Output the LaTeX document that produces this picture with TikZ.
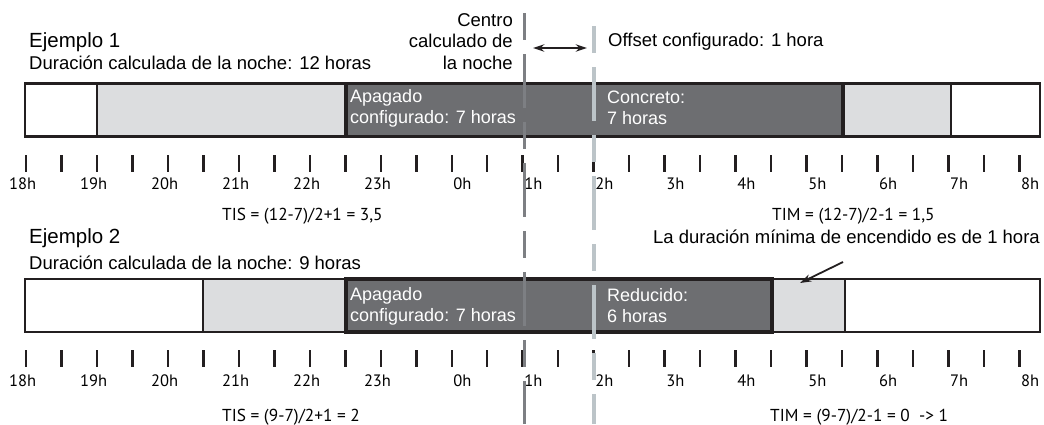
\documentclass[tikz,border=0pt]{standalone}
\usepackage{fontspec}
\setmainfont{Liberation Sans}
\newfontfamily\tickfont{PT Sans}
\usepackage{tikz}
\usetikzlibrary{positioning,arrows.meta,calc}
\definecolor{offc}{RGB}{109,110,113}
\definecolor{dimc}{RGB}{220,221,223}
\definecolor{edgec}{RGB}{35,31,32}
\definecolor{centc}{RGB}{125,127,131}
\definecolor{offsc}{RGB}{188,196,200}
\tikzset{
  title/.style    = {font=\fontsize{20.5}{24}\selectfont, inner sep=0pt, anchor=west},
  lbl/.style      = {font=\fontsize{18.5}{21.5}\selectfont, inner sep=0pt},
  intext/.style   = {font=\fontsize{18}{21}\selectfont, text=white, inner sep=0pt,
                     align=left, anchor=west},
  hour/.style     = {font=\tickfont\fontsize{16.5}{18}\selectfont, inner sep=0pt, anchor=west},
  formula/.style  = {font=\tickfont\fontsize{17.3}{19}\selectfont, inner sep=0pt, anchor=west},
  hrtick/.style   = {draw=edgec, line width=2.5pt},
  offbox/.style   = {fill=offc, draw=edgec, line width=3.5pt},
  dimbox/.style   = {fill=dimc, draw=edgec, line width=2.5pt},
  onbox/.style    = {fill=white, draw=edgec, line width=2.5pt},
  centline/.style = {draw=centc, line width=3pt, dash pattern=on 27pt off 14pt on 54pt off 14pt},
  offsline/.style = {draw=offsc, line width=4pt, dash pattern=on 27pt off 14pt on 54pt off 14pt},
  flow/.style     = {-{Stealth[length=4mm,width=2.6mm]}, line width=1.8pt, draw=edgec},
  gap/.style      = {{Stealth[length=4mm,width=2.6mm]}-{Stealth[length=4mm,width=2.6mm]},
                     line width=1.5pt, draw=edgec},
}

\begin{document}
\begin{tikzpicture}[x=1pt,y=-1pt]
\useasboundingbox (0,0) rectangle (1044,424);

% headings
\node[title] (ej1) at (29,42) {Ejemplo 1};
\node[lbl, anchor=west] (dur1) at (29,63) {Duración calculada de la noche: 12 horas};
\node[title] (ej2) at (29,238) {Ejemplo 2};
\node[lbl, anchor=west] (dur2) at (29,263) {Duración calculada de la noche: 9 horas};

% example 1 bar
\draw[onbox]  (25,83.5)  rectangle (97,136.5);
\draw[dimbox] (97,83.5)  rectangle (346,136.5);
\draw[dimbox] (843,83.5) rectangle (951,136.5);
\draw[onbox]  (951,83.5) rectangle (1040,136.5);
\draw[offbox] (346,83.5) rectangle (843,136.5);
\node[intext] (apa1) at (350,108) {Apagado\\configurado: 7 horas};
\node[intext] (con1) at (607,108) {Concreto:\\7 horas};

% example 2 bar
\draw[onbox]  (25,279)  rectangle (203,332);
\draw[dimbox] (203,279) rectangle (346,332);
\draw[dimbox] (772,279) rectangle (845,332);
\draw[onbox]  (845,279) rectangle (1040,332);
\draw[offbox] (346,279) rectangle (772,332);
\node[intext] (apa2) at (350,306) {Apagado\\configurado: 7 horas};
\node[intext] (red2) at (607,306) {Reducido:\\6 horas};

% time axes
\foreach \i in {0,...,28} {
  \draw[hrtick] ({26+35.48*\i},155) -- ({26+35.48*\i},172);
  \draw[hrtick] ({26+35.48*\i},350) -- ({26+35.48*\i},367);
}
\foreach \i/\t in {0/18h,1/19h,2/20h,3/21h,4/22h,5/23h,6/0h,7/1h,8/2h,9/3h,10/4h,11/5h,12/6h,13/7h,14/8h} {
  \pgfmathsetmacro\dx{\i<6 ? -17 : 1.5}
  \node[hour] (ha-\i) at ({26+70.96*\i+\dx},183.5) {\t};
  \node[hour] (hb-\i) at ({26+70.96*\i+\dx},380.5) {\t};
}

\node[formula] (tis1) at (222,216) {TIS = (12-7)/2+1 = 3,5};
\node[formula] (tim1) at (772,216) {TIM = (12-7)/2-1 = 1,5};
\node[formula] (tis2) at (222,417) {TIS = (9-7)/2+1 = 2};
\node[formula] (tim2) at (770,417) {TIM = (9-7)/2-1 = 0\ \ -> 1};

% centre and offset lines
\draw[centline] (524,13) -- (524,424);
\draw[offsline] (594,26) -- (594,424);
\node[lbl, align=right, anchor=east] (centro) at (513,41.5) {Centro\\calculado de\\la noche};
\node[lbl, anchor=west] (offs) at (608,42) {Offset configurado: 1 hora};
\coordinate (gapl) at (533,48);
\coordinate (gapr) at (587,48);
\draw[gap] (gapl) -- (gapr);

% minimum on time
\node[lbl, anchor=east] (minon) at (1040,237) {La duración mínima de encendido es de 1 hora};
\coordinate (mintail) at (843,262);
\coordinate (mintip) at (800,283);
\draw[flow] (mintail) -- (mintip);

\end{tikzpicture}
\end{document}
